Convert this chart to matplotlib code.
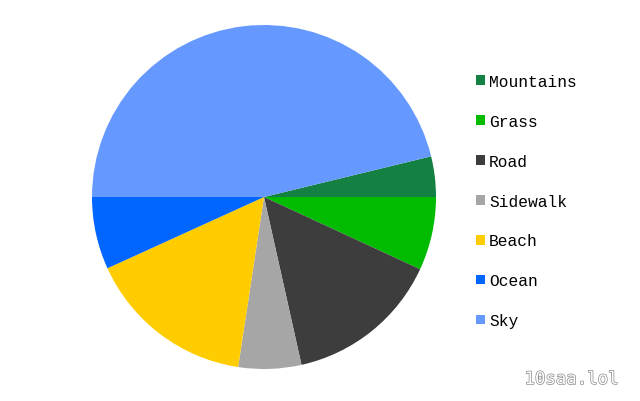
import matplotlib
matplotlib.use('Agg')
import matplotlib.pyplot as plt
from matplotlib import patheffects as pe

# slice shares (percent)
labels = ['Mountains', 'Grass', 'Road', 'Sidewalk', 'Beach', 'Ocean', 'Sky']
shares = [3.8, 6.9, 14.6, 5.9, 15.8, 6.8, 46.2]
colors = ['#148041', '#00bb00', '#3d3d3d', '#a6a6a6', '#ffcc00', '#0066ff', '#6699ff']

fig = plt.figure(figsize=(6.4, 4.02), dpi=100)
fig.patch.set_facecolor('white')

# pie centred at about (264, 198) px with radius 172 px
ax = fig.add_axes([92 / 640, 32 / 402, 344 / 640, 344 / 402])
wedges, _ = ax.pie(shares, colors=colors, startangle=shares[0] * 3.6,
                   counterclock=False, radius=1.0,
                   wedgeprops=dict(linewidth=0, antialiased=True))
ax.set_xlim(-1, 1)
ax.set_ylim(-1, 1)
ax.set_aspect('equal')
ax.axis('off')

leg = fig.legend(wedges, labels, loc='upper left', bbox_to_anchor=(476 / 640, 1 - 75 / 402),
                 frameon=False, prop={'family': 'Liberation Mono', 'size': 11.7},
                 handlelength=0.55, handleheight=0.55, handletextpad=0.25,
                 labelspacing=1.53, borderaxespad=0, borderpad=0)

fig.text(619 / 640, 1 - 380 / 402, '10saa.lol', ha='right', va='center',
         family='DejaVu Sans Mono', fontsize=12.5, color='white',
         path_effects=[pe.withStroke(linewidth=1.0, foreground='#8a8a8a')])

fig.savefig('out.png', dpi=100, facecolor='white')
